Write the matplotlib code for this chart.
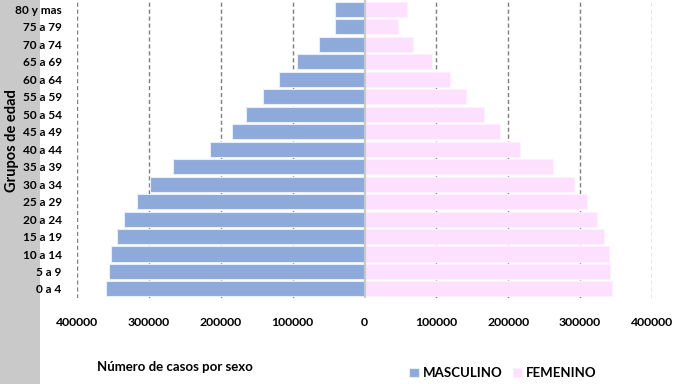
import matplotlib
matplotlib.use("Agg")
import matplotlib.pyplot as plt
from matplotlib.patches import Rectangle
import numpy as np

plt.rcParams['font.family'] = ['Lato', 'DejaVu Sans']

# datos
grupos = ['0 a 4', '5 a 9', '10 a 14', '15 a 19', '20 a 24', '25 a 29', '30 a 34',
          '35 a 39', '40 a 44', '45 a 49', '50 a 54', '55 a 59', '60 a 64',
          '65 a 69', '70 a 74', '75 a 79', '80 y mas']
masculino = [360000, 356000, 352000, 344000, 334000, 317000, 299000, 266000, 215000,
             185000, 165000, 141000, 119000, 94000, 63000, 41000, 41000]
femenino = [345000, 342000, 340000, 333000, 323000, 309000, 292000, 262000, 217000,
            188000, 166000, 141000, 119000, 94000, 67000, 46000, 59000]
xticks = [-400000, -300000, -200000, -100000, 0, 100000, 200000, 300000, 400000]
xticklabels = ['400000', '300000', '200000', '100000', '0', '100000', '200000', '300000', '400000']

fig = plt.figure(figsize=(6.77, 3.84), dpi=100)
fig.patches.append(Rectangle((0, 0), 40/677, 1, transform=fig.transFigure,
                             facecolor='#c9c9c9', edgecolor='none', zorder=-5))
ax = fig.add_axes([77/677, 1 - 297.5/384, 575/677, 297.5/384])
ax.set_zorder(2)
ax.patch.set_alpha(0)

y = np.arange(len(grupos))
ax.barh(y, -np.array(masculino), height=0.86, color='#8eaadb', edgecolor='#e8eef8',
        linewidth=0.8, label='MASCULINO', zorder=3)
ax.barh(y, femenino, height=0.86, color='#fde0fd', edgecolor='#fff0ff',
        linewidth=0.8, label='FEMENINO', zorder=3)
ax.axvline(0, color='#c8c8c8', lw=1.5, zorder=4)

ax.set_xlim(-400000, 400000)
ax.set_ylim(-0.49, 16.54)
ax.set_xticks(xticks)
ax.set_xticklabels(xticklabels)
ax.set_yticks(y)
ax.set_yticklabels(grupos)
for v in xticks:
    if v != 0:
        ax.axvline(v, color='#7f7f7f', lw=1.0, ls=(0, (3, 2)), zorder=1)
ax.tick_params(axis='x', length=0, pad=14, labelsize=8.8)
ax.tick_params(axis='y', length=0, pad=11, labelsize=8.6)
for lab in ax.get_xticklabels() + ax.get_yticklabels():
    lab.set_fontweight('bold')
for s in ax.spines.values():
    s.set_visible(False)

fig.text(12/677, 1 - 141/384, 'Grupos de edad', rotation=90, ha='center', va='center',
         fontsize=10.5, fontweight='bold')
fig.text(175/677, 1 - 367/384, 'Número de casos por sexo', ha='center', va='center',
         fontsize=9.5, fontweight='bold')
fig.legend(loc='center', bbox_to_anchor=(503/677, 1 - 373/384), ncol=2, frameon=False,
           prop={'size': 9.5, 'weight': 'bold'}, handlelength=0.7, handleheight=0.7,
           columnspacing=0.8, handletextpad=0.3)

fig.savefig('out.png', dpi=100)
